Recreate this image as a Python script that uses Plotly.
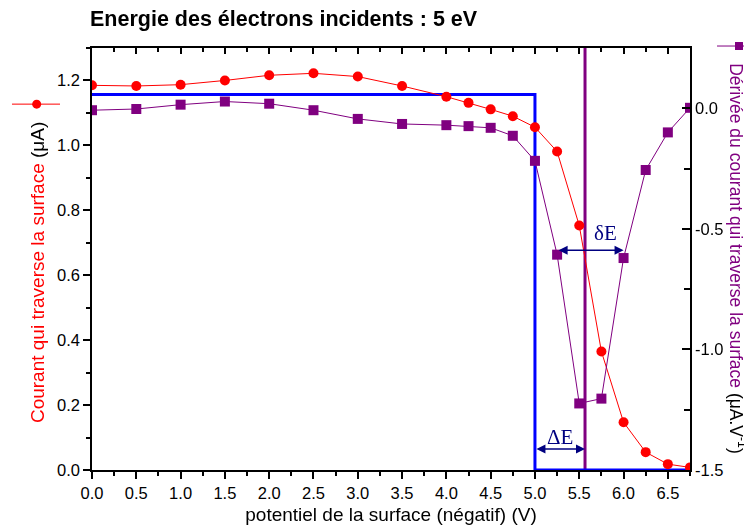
import plotly.graph_objects as go

# ---------------- data ----------------
potential = [0.0, 0.5, 1.0, 1.5, 2.0, 2.5, 3.0, 3.5, 4.0, 4.25, 4.5, 4.75,
             5.0, 5.25, 5.5, 5.75, 6.0, 6.25, 6.5, 6.75]
current = [1.185, 1.183, 1.187, 1.200, 1.216, 1.222, 1.212, 1.183, 1.150, 1.131,
           1.111, 1.090, 1.056, 0.981, 0.753, 0.365, 0.147, 0.055, 0.018, 0.008]
derivative = [-0.008, -0.003, 0.015, 0.028, 0.019, -0.008, -0.044, -0.065, -0.070,
              -0.074, -0.081, -0.114, -0.218, -0.607, -1.224, -1.204, -0.621,
              -0.256, -0.100, 0.002]

# ideal step (blue) : plateau level, step energy, end of axis
step_level = 1.157
step_energy = 5.0
x_end = 6.75
# position of derivative peak (purple vertical line)
peak_energy = 5.565
# width markers
delta_E_y = 0.065
dE_left, dE_right, dE_y = 5.25, 6.0, 0.677

x_ticks = [0.0, 0.5, 1.0, 1.5, 2.0, 2.5, 3.0, 3.5, 4.0, 4.5, 5.0, 5.5, 6.0, 6.5]
y2_tickvals = [-1.5, -1.0, -0.5, 0.0]
y2_ticktext = ["-1.5", "-1.0", "-0.5", "0.0"]

RED = "#ff0000"
PURPLE = "#800080"
BLUE = "#0000ff"
NAVY = "#000080"
FONT = "Liberation Sans, Arial, sans-serif"
SERIF = "Liberation Serif, Times New Roman, serif"

fig = go.Figure()

# blue ideal step
fig.add_trace(go.Scatter(
    x=[0.0, step_energy, step_energy, x_end],
    y=[step_level, step_level, 0.0, 0.0],
    mode="lines", line=dict(color=BLUE, width=3),
    xaxis="x", yaxis="y", showlegend=False, hoverinfo="skip"))

# derivative (right axis)
fig.add_trace(go.Scatter(
    x=potential, y=derivative, mode="lines+markers",
    line=dict(color=PURPLE, width=1),
    marker=dict(symbol="square", size=10, color=PURPLE),
    xaxis="x", yaxis="y2", showlegend=False))

# current (left axis)
fig.add_trace(go.Scatter(
    x=potential, y=current, mode="lines+markers",
    line=dict(color=RED, width=1),
    marker=dict(symbol="circle", size=10, color=RED),
    xaxis="x", yaxis="y", showlegend=False))

# invisible trace so the top tick axis is drawn
fig.add_trace(go.Scatter(
    x=potential, y=current, mode="markers", opacity=0,
    xaxis="x2", yaxis="y", showlegend=False, hoverinfo="skip"))

shapes = [
    # purple vertical line at derivative peak
    dict(type="line", xref="x", yref="paper", x0=peak_energy, x1=peak_energy,
         y0=0, y1=1, line=dict(color=PURPLE, width=3), layer="below"),
    # left legend glyph (red line + circle)
    dict(type="line", xref="paper", yref="paper", x0=-0.1338, x1=-0.0535,
         y0=0.867, y1=0.867, line=dict(color=RED, width=1)),
    dict(type="circle", xref="paper", yref="paper", xsizemode="pixel", ysizemode="pixel",
         xanchor=-0.0925, yanchor=0.867, x0=-4.5, x1=4.5, y0=-4.5, y1=4.5,
         fillcolor=RED, line=dict(width=0)),
    # right legend glyph (purple line + square)
    dict(type="line", xref="paper", yref="paper", x0=1.0452, x1=1.1003,
         y0=1.0047, y1=1.0047, line=dict(color=PURPLE, width=1)),
    dict(type="rect", xref="paper", yref="paper", xsizemode="pixel", ysizemode="pixel",
         xanchor=1.0819, yanchor=1.0047, x0=-4, x1=4, y0=-4, y1=4,
         fillcolor=PURPLE, line=dict(width=0)),
]

annotations = [
    # Delta E arrow
    dict(x=peak_energy, y=delta_E_y, ax=step_energy, ay=delta_E_y,
         xref="x", yref="y", axref="x", ayref="y", text="", showarrow=True,
         arrowside="end+start", arrowhead=2, startarrowhead=2, arrowsize=1.2,
         arrowwidth=1.5, arrowcolor=NAVY, standoff=0, startstandoff=0),
    dict(x=(step_energy + peak_energy) / 2, y=0.102, xref="x", yref="y",
         text="ΔE", showarrow=False,
         font=dict(family=SERIF, size=21, color=NAVY)),
    # delta E arrow
    dict(x=dE_right, y=dE_y, ax=dE_left, ay=dE_y,
         xref="x", yref="y", axref="x", ayref="y", text="", showarrow=True,
         arrowside="end+start", arrowhead=2, startarrowhead=2, arrowsize=1.2,
         arrowwidth=1.5, arrowcolor=NAVY, standoff=0, startstandoff=0),
    dict(x=5.80, y=0.73, xref="x", yref="y", text="δE", showarrow=False,
         font=dict(family=SERIF, size=21, color=NAVY)),
    # left axis title
    dict(x=-0.092, y=0.469, xref="paper", yref="paper", textangle=-90, showarrow=False,
         xanchor="center", yanchor="middle",
         text="Courant qui traverse la surface <span style='color:black'>(μA)</span>",
         font=dict(family=FONT, size=19, color=RED)),
    # right axis title
    dict(x=1.080, y=0.500, xref="paper", yref="paper", textangle=90, showarrow=False,
         xanchor="center", yanchor="middle",
         text="Dérivée du courant qui traverse la surface <span style='color:black'>(μA.V<sup>-1</sup>)</span>",
         font=dict(family=FONT, size=17.5, color=PURPLE)),
]

fig.update_layout(
    width=744, height=521,
    margin=dict(l=84, r=62, t=40, b=59, autoexpand=False),
    paper_bgcolor="white", plot_bgcolor="white",
    font=dict(family=FONT, size=16.5, color="black"),
    title=dict(text="<b>Energie des électrons incidents : 5 eV</b>",
               x=0.1102, xanchor="left", y=0.979, yanchor="middle",
               font=dict(family=FONT, size=21.5, color="black")),
    showlegend=False,
    xaxis=dict(range=[0, x_end], tickvals=x_ticks, tickformat=".1f",
               ticks="outside", ticklen=7, tickwidth=1.5, tickcolor="black",
               minor=dict(tickmode="linear", tick0=0.25, dtick=0.5, ticks="outside",
                          ticklen=4, tickwidth=1.5, tickcolor="black"),
               showline=True, linewidth=1.5, linecolor="black", mirror=True,
               showgrid=False, zeroline=False, layer="below traces", automargin=False,
               title=dict(text="potentiel de la surface (négatif) (V)",
                          font=dict(size=19), standoff=7),
               tickfont=dict(size=16.5)),
    xaxis2=dict(overlaying="x", side="top", matches="x", anchor="y",
                tickvals=x_ticks, ticks="inside", ticklen=6, tickwidth=1.5,
                tickcolor="black", showticklabels=False, automargin=False,
                minor=dict(tickmode="linear", tick0=0.25, dtick=0.5, ticks="inside",
                           ticklen=4, tickwidth=1.5, tickcolor="black"),
                showline=False, showgrid=False, zeroline=False),
    yaxis=dict(range=[0, 1.3], tick0=0, dtick=0.2, tickformat=".1f",
               ticks="outside", ticklen=7, tickwidth=1.5, tickcolor="black",
               minor=dict(tickmode="linear", tick0=0.1, dtick=0.2, ticks="outside",
                          ticklen=4, tickwidth=1.5, tickcolor="black"),
               showline=True, linewidth=1.5, linecolor="black", automargin=False,
               showgrid=False, zeroline=False, layer="below traces",
               tickfont=dict(size=16.5)),
    yaxis2=dict(overlaying="y", side="right", anchor="x", range=[-1.5, 0.25],
                tickmode="array", tickvals=y2_tickvals, ticktext=y2_ticktext,
                ticks="inside", ticklen=8, tickwidth=1.5, tickcolor="black",
                minor=dict(tickmode="array", tickvals=[-1.25, -0.75, -0.25],
                           ticks="inside", ticklen=6, tickwidth=1.5, tickcolor="black"),
                showline=True, linewidth=1.5, linecolor="black", automargin=False,
                showgrid=False, zeroline=False, tickfont=dict(size=16.5)),
    shapes=shapes,
    annotations=annotations,
)

fig.write_html("out.html")
